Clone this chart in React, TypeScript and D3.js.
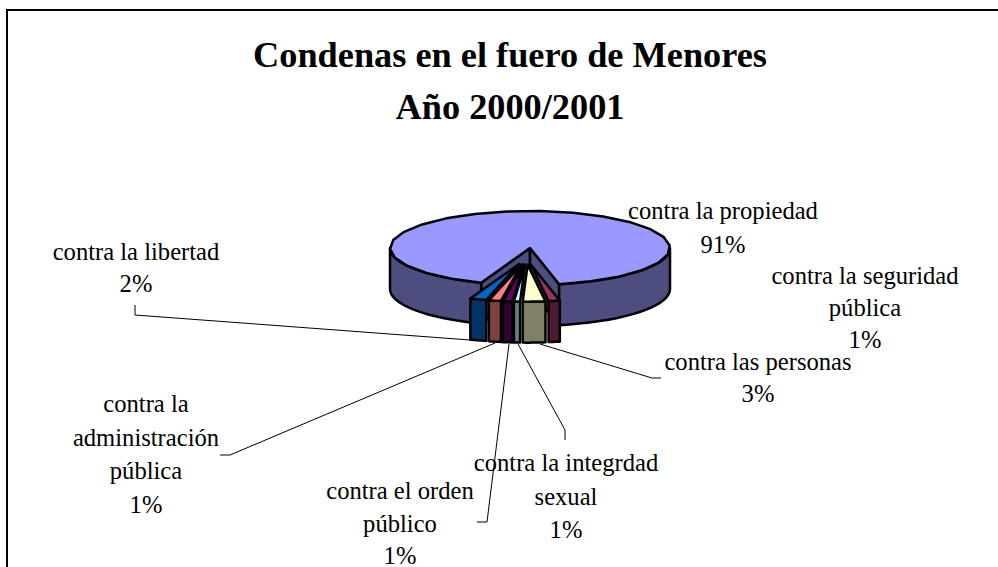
import React from "react";
import * as d3 from "d3";

const categories = ["contra la propiedad","contra la seguridad pública","contra las personas","contra la integrdad sexual","contra el orden público","contra la administración pública","contra la libertad"];
const shares = [91, 1.3, 2.6, 0.7, 1.1, 1.4, 1.9];
const topColors = ["#9999ff","#993366","#ffffcc","#ccffff","#660066","#ff8080","#0066cc"];
const sideColors = ["#4d4d80","#4d1933","#808066","#668080","#330033","#804040","#003366"];
const labelLines = [
  ["contra la propiedad"],
  ["contra la seguridad","pública"],
  ["contra las personas"],
  ["contra la integrdad","sexual"],
  ["contra el orden","público"],
  ["contra la","administración","pública"],
  ["contra la libertad"],
];
const labelCenters: [number,number][] = [[723,219],[865,284],[758,370],[566,471],[400,499],[146,412],[136,260]];
const labelGaps = [34,32,32,33.5,32.5,33.5,32];
const leaders: [number,number][][] = [
  [],[],
  [[661,378],[652,378],[540,344]],
  [[565,440],[565,430],[518,344]],
  [[477,522],[487,522],[509,344]],
  [[220,455],[230,455],[495,343]],
  [[135,305],[135,315],[470,340]],
];

const cx = 530, cy = 248, rx = 140, ry = 37, depth = 41;
const explodeX = 0.18, explodeY = 0.45, explodeShift = -3.5;

export default function App() {
  const rot = (168 - 327.6) * Math.PI / 180;
  const arcs = d3.pie<number>().sort(null).startAngle(rot).endAngle(rot + 2*Math.PI)(shares);
  const px = d3.scaleLinear().domain([-1,1]).range([cx-rx,cx+rx]);
  const py = d3.scaleLinear().domain([-1,1]).range([cy-ry,cy+ry]);
  const pt = (a:number,r=1,ox=0,oy=0):[number,number] => [px(r*Math.sin(a))+ox, py(-r*Math.cos(a))+oy];
  const line = d3.line();
  const rim = (a0:number,a1:number,ox:number,oy:number) => d3.range(0,25).map(i=>pt(a0+(a1-a0)*i/24,1,ox,oy));
  const down = (p:[number,number]):[number,number] => [p[0],p[1]+depth];
  const band = (r:[number,number][]) => line([...r,...r.slice().reverse().map(down)])+"Z";
  const pieces = arcs.map((a,i)=>{
    const mid=(a.startAngle+a.endAngle)/2;
    const ox = i===0?0:explodeX*rx*Math.sin(mid)+explodeShift;
    const oy = i===0?0:-explodeY*ry*Math.cos(mid);
    const r = rim(a.startAngle,a.endAngle,ox,oy);
    const c = pt(0,0,ox,oy);
    const pa = pt(a.startAngle,1,ox,oy), pb = pt(a.endAngle,1,ox,oy);
    return {i,
      top: line([c,...r])+"Z",
      side: band(r),
      wallA: line([c,pa,down(pa),down(c)])+"Z",
      wallB: line([c,pb,down(pb),down(c)])+"Z"};
  });
  const main = arcs[0];
  const mainP = pieces[0];
  const leftOuter = rim(main.startAngle, -Math.PI/2,0,0);
  const rightOuter = rim(Math.PI/2, main.endAngle,0,0);
  const small = pieces.slice(1).reverse();
  return (
    <svg width={998} height={567} style={{position:"absolute",left:0,top:0,background:"#fff"}} fontFamily="'Liberation Serif'">
      <rect x={7} y={10} width={1100} height={700} fill="#fff" stroke="#000" strokeWidth={2}/>
      <text x={510} y={67} textAnchor="middle" fontWeight="bold" fontSize={36.3}>Condenas en el fuero de Menores</text>
      <text x={510} y={119} textAnchor="middle" fontWeight="bold" fontSize={36.3}>Año 2000/2001</text>
      <g stroke="#000" strokeWidth={2.5} strokeLinejoin="round">
        <path d={mainP.wallA} fill={sideColors[0]}/>
        <path d={mainP.wallB} fill={sideColors[0]}/>
        <path d={band(leftOuter)} fill={sideColors[0]}/>
        <path d={band(rightOuter)} fill={sideColors[0]}/>
        <path d={mainP.top} fill={topColors[0]}/>
        {small.map(p=>(
          <g key={p.i}>
            <path d={p.side} fill={sideColors[p.i]}/>
            <path d={p.top} fill={topColors[p.i]}/>
          </g>
        ))}
      </g>
      <g fill="none" stroke="#000" strokeWidth={1}>
        {leaders.filter(l=>l.length).map((l,i)=><path key={i} d={line(l)||""}/>)}
      </g>
      <g fontSize={24.6} textAnchor="middle" fill="#000">
        {categories.map((c,i)=>{
          const ls = [...labelLines[i], `${Math.round(shares[i])}%`];
          return <text key={c} x={labelCenters[i][0]} y={labelCenters[i][1]}>
            {ls.map((t,j)=><tspan key={j} x={labelCenters[i][0]} dy={j===0?0:labelGaps[i]}>{t}</tspan>)}
          </text>;
        })}
      </g>
    </svg>
  );
}
